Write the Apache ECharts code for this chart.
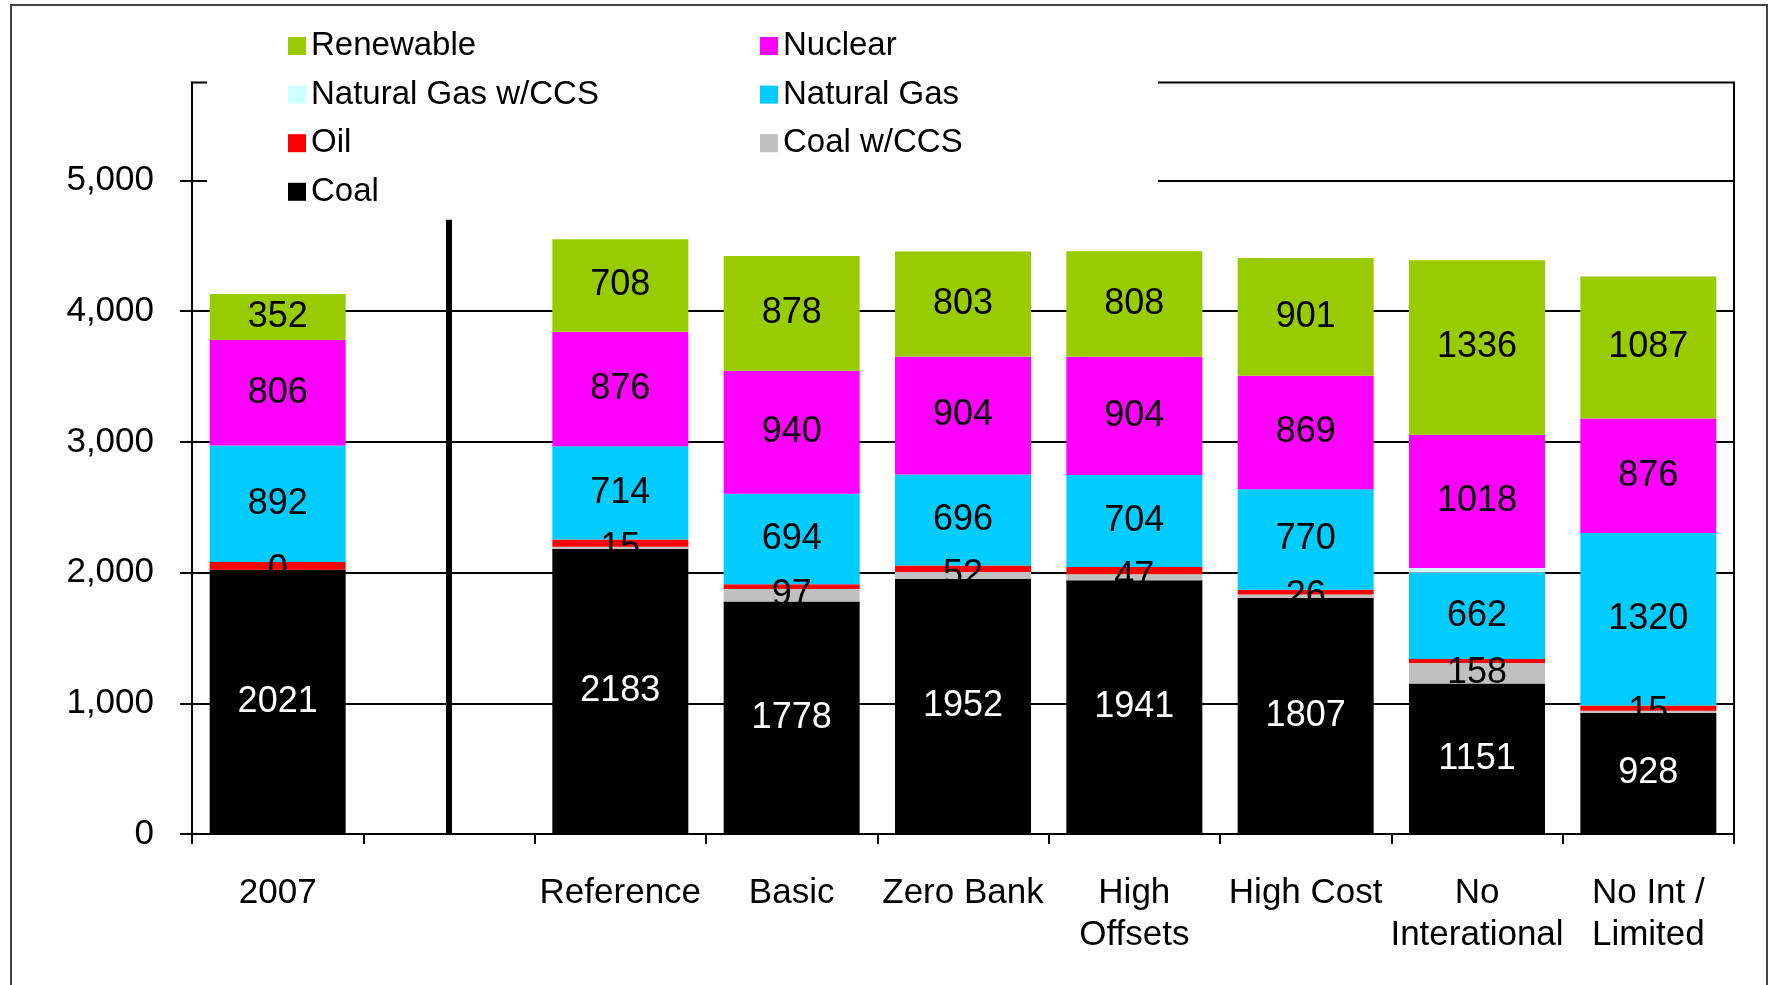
<!DOCTYPE html>
<html>
<head>
<meta charset="utf-8">
<script src="https://cdn.jsdelivr.net/npm/echarts@6/dist/echarts.min.js"></script>
<style>
  html, body { margin: 0; padding: 0; background: #fff; }
  #chart { width: 1771px; height: 985px; }
</style>
</head>
<body>
<div id="chart"></div>
<script>
const categories = ['2007', '', 'Reference', 'Basic', 'Zero Bank', 'High\nOffsets', 'High Cost', 'No\nInterational', 'No Int /\nLimited']
const coal = [2021, null, 2183, 1778, 1952, 1941, 1807, 1151, 928]
const coalCCS = [0, null, 15, 97, 52, 47, 26, 158, 15]
const oil = [60, null, 55, 35, 50, 55, 35, 30, 40]
const naturalGas = [892, null, 714, 694, 696, 704, 770, 662, 1320]
const naturalGasCCS = [0, null, 0, 0, 0, 0, 0, 35, 0]
const nuclear = [806, null, 876, 940, 904, 904, 869, 1018, 876]
const renewable = [352, null, 708, 878, 803, 808, 901, 1336, 1087]
const yTicks = [0, 1000, 2000, 3000, 4000, 5000]
const yMax = 5750
const separatorIndex = 1
const separatorTop = 4700

const FONT = 'Liberation Sans'

const makeSeries = (name, data, color, labelColor) => ({
    name,
    type: 'bar',
    stack: 'total',
    data,
    barWidth: 136,
    itemStyle: { color },
    label: {
        show: !!labelColor,
        position: 'inside',
        color: labelColor || '#000',
        fontFamily: FONT,
        fontSize: 36
    }
})

const series = [
    makeSeries('Coal', coal, '#000000', '#ffffff'),
    makeSeries('Coal w/CCS', coalCCS, '#c0c0c0', '#000000'),
    makeSeries('Oil', oil, '#ff0000', null),
    makeSeries('Natural Gas', naturalGas, '#00ccff', '#000000'),
    makeSeries('Natural Gas w/CCS', naturalGasCCS, '#ccffff', null),
    makeSeries('Nuclear', nuclear, '#ff00ff', '#000000'),
    makeSeries('Renewable', renewable, '#99cc00', '#000000')
]

// thick divider between the 2007 bar and the scenarios
series[0].markLine = {
    silent: true,
    symbol: 'none',
    label: { show: false },
    lineStyle: { color: '#000', width: 6, type: 'solid' },
    data: [[{ coord: [separatorIndex, 0] }, { coord: [separatorIndex, separatorTop] }]]
}

const legendBase = {
    orient: 'vertical',
    top: 29,
    padding: 0,
    itemWidth: 18,
    itemHeight: 18,
    itemGap: 14.6,
    icon: 'rect',
    selectedMode: false,
    z: 10,
    textStyle: { color: '#000', fontFamily: FONT, fontSize: 33, lineHeight: 34 }
}

const chart = echarts.init(document.getElementById('chart'))
chart.setOption({
    animation: false,
    backgroundColor: '#fff',
    grid: { left: 192, right: 37, top: 82.5, bottom: 151, show: true, borderColor: '#000', borderWidth: 2 },
    legend: [
        { ...legendBase, left: 288, data: ['Renewable', 'Natural Gas w/CCS', 'Oil', 'Coal'] },
        { ...legendBase, left: 760, data: ['Nuclear', 'Natural Gas', 'Coal w/CCS'] }
    ],
    graphic: [
        {
            type: 'rect',
            z: 5,
            shape: { x: 207, y: 70, width: 951, height: 125 },
            style: { fill: '#fff' },
            silent: true
        },
        {
            type: 'rect',
            z: 5,
            shape: { x: 11, y: 5, width: 1756, height: 1000 },
            style: { fill: 'none', stroke: '#444', lineWidth: 2 },
            silent: true
        }
    ],
    xAxis: {
        type: 'category',
        data: categories,
        axisLine: { lineStyle: { color: '#000', width: 2 } },
        axisTick: { show: true, length: 10, lineStyle: { color: '#000', width: 2 } },
        axisLabel: { interval: 0, color: '#000', fontFamily: FONT, fontSize: 35, lineHeight: 42, margin: 38 }
    },
    yAxis: {
        type: 'value',
        min: 0,
        max: yMax,
        interval: 1000,
        axisLine: { show: true, lineStyle: { color: '#000', width: 2 } },
        axisTick: { show: true, length: 12, customValues: yTicks, lineStyle: { color: '#000', width: 2 } },
        axisLabel: {
            customValues: yTicks,
            color: '#000',
            fontFamily: FONT,
            fontSize: 35,
            margin: 38,
            formatter: (v) => (v % 1000 === 0 ? v.toLocaleString('en-US') : '')
        },
        splitLine: { show: true, lineStyle: { color: '#000', width: 2 } }
    },
    series
})
</script>
</body>
</html>
